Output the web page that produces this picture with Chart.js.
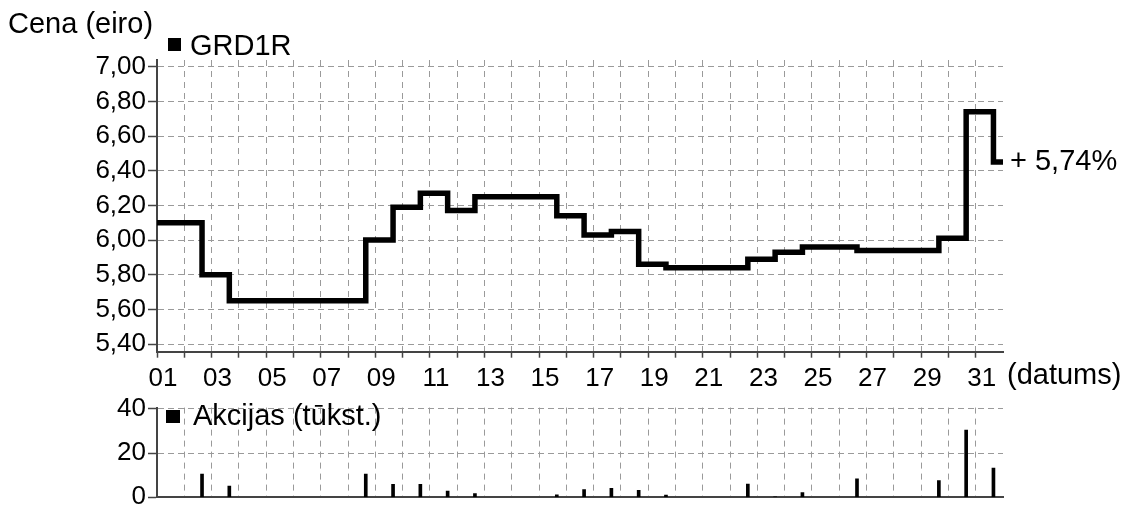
<!DOCTYPE html>
<html>
<head>
<meta charset="utf-8">
<script src="https://cdn.jsdelivr.net/npm/chart.js@4.4.0/dist/chart.umd.min.js"></script>
<style>
  html, body { margin: 0; padding: 0; background: #fff; }
  #wrap { position: relative; width: 1125px; height: 507px; overflow: hidden; }
  canvas { position: absolute; left: 0; }
  #priceChart { top: 0; }
  #volumeChart { top: 390px; }
</style>
</head>
<body>
<div id="wrap">
  <canvas id="priceChart" width="1125" height="395"></canvas>
  <canvas id="volumeChart" width="1125" height="140"></canvas>
</div>
<script>
// month days on the x axis
const days = [1, 2, 3, 4, 5, 6, 7, 8, 9, 10, 11, 12, 13, 14, 15, 16, 17, 18, 19, 20, 21, 22, 23, 24, 25, 26, 27, 28, 29, 30, 31];
// days with a trade, price after it, volume (thousand shares)
const tradeDays = [2, 3, 8, 9, 10, 11, 12, 15, 16, 17, 18, 19, 22, 23, 24, 26, 29, 30, 31];
const openPrice = 6.10;
const closePrices = [5.80, 5.65, 6.00, 6.19, 6.27, 6.17, 6.25, 6.14, 6.03, 6.05, 5.86, 5.84, 5.89, 5.93, 5.96, 5.94, 6.01, 6.74, 6.45];
const volumes = [10.5, 5.1, 10.5, 5.8, 5.8, 2.8, 1.7, 1.1, 3.5, 4.0, 3.2, 1.0, 6.0, 0.2, 2.1, 8.3, 7.5, 30.3, 13.2];
const priceTicks = [5.4, 5.6, 5.8, 6.0, 6.2, 6.4, 6.6, 6.8, 7.0];
const volumeTicks = [0, 20, 40];

const yTitle = 'Cena (eiro)';
const xTitle = '(datums)';
const seriesName = 'GRD1R';
const volumeName = 'Akcijas (tūkst.)';
const changeLabel = '+ 5,74%';

const FONT = '"Liberation Sans", Arial, sans-serif';
const tradeTime = 0.65; // trades land late in the day
const gridColor = '#9a9a9a';
const axisColor = '#444';

const xMin = days[0], xMax = days[days.length - 1] + 1;

const priceData = [{ x: xMin, y: openPrice }]
  .concat(tradeDays.map((d, i) => ({ x: d + tradeTime, y: closePrices[i] })))
  .concat([{ x: xMax, y: closePrices[closePrices.length - 1] }]);
const volumeData = tradeDays.map((d, i) => ({ x: d + tradeTime, y: volumes[i] }));

const pad2 = v => (v < 10 ? '0' : '') + v;

const xScale = (showLabels, height) => ({
  type: 'linear',
  min: xMin,
  max: xMax,
  offset: false,
  afterBuildTicks: s => { s.ticks = days.map(v => ({ value: v })); },
  afterFit: s => { s.height = height; },
  grid: { color: gridColor, lineWidth: 1, offset: false, drawTicks: showLabels, tickLength: 6, tickColor: axisColor, tickWidth: 1.5 },
  border: { color: axisColor, width: 2, dash: [6, 5] },
  ticks: {
    display: showLabels,
    autoSkip: false,
    maxRotation: 0,
    padding: 6,
    labelOffset: 6,
    color: '#000',
    font: { family: FONT, size: 26 },
    callback: v => (v % 2 === 1 ? pad2(v) : '')
  }
});

const yScale = (min, max, tickList, fmt) => ({
  min, max,
  afterBuildTicks: s => { s.ticks = tickList.map(v => ({ value: v })); },
  afterFit: s => { s.width = 157; },
  grid: { color: gridColor, lineWidth: 1, tickLength: 9, tickColor: axisColor, tickWidth: 1.5 },
  border: { color: axisColor, width: 2, dash: [6, 4] },
  ticks: { padding: 2, color: '#000', font: { family: FONT, size: 26 }, callback: fmt }
});

const priceNotes = {
  id: 'priceNotes',
  afterDraw(chart) {
    const { ctx, chartArea, scales } = chart;
    ctx.save();
    ctx.fillStyle = '#000';
    ctx.font = '29px ' + FONT;
    ctx.textBaseline = 'alphabetic';
    ctx.fillText(yTitle, 8, 33);
    ctx.fillRect(168, 38, 13, 13);
    ctx.fillText(seriesName, 190, 55);
    ctx.textBaseline = 'middle';
    const lastY = scales.y.getPixelForValue(closePrices[closePrices.length - 1]);
    ctx.fillText(changeLabel, chartArea.right + 7, lastY);
    ctx.fillText(xTitle, chartArea.right + 4, 376);
    ctx.restore();
  }
};

const volumeNotes = {
  id: 'volumeNotes',
  afterDraw(chart) {
    const { ctx } = chart;
    ctx.save();
    ctx.fillStyle = '#000';
    ctx.font = '29px ' + FONT;
    ctx.fillRect(166, 20, 14, 13);
    ctx.fillText(volumeName, 193, 35);
    ctx.restore();
  }
};

new Chart(document.getElementById('priceChart'), {
  type: 'line',
  data: {
    datasets: [{
      data: priceData,
      stepped: 'before',
      borderColor: '#000',
      borderWidth: 5.5,
      borderJoinStyle: 'miter',
      pointRadius: 0,
      fill: false
    }]
  },
  options: {
    responsive: false,
    animation: false,
    events: [],
    layout: { padding: { top: 60, right: 122, left: 0, bottom: 0 } },
    plugins: { legend: { display: false }, tooltip: { enabled: false } },
    scales: {
      x: xScale(true, 395 - 351.7),
      y: yScale(5.356, 7.039, priceTicks, v => v.toFixed(2).replace('.', ','))
    }
  },
  plugins: [priceNotes]
});

new Chart(document.getElementById('volumeChart'), {
  type: 'bar',
  data: {
    datasets: [{
      data: volumeData,
      backgroundColor: '#000',
      barThickness: 3
    }]
  },
  options: {
    responsive: false,
    animation: false,
    events: [],
    layout: { padding: { top: 10.5, right: 122, left: 0, bottom: 0 } },
    plugins: { legend: { display: false }, tooltip: { enabled: false } },
    scales: {
      x: xScale(false, 140 - 107.3),
      y: yScale(0, 40.5, volumeTicks, v => String(v))
    }
  },
  plugins: [volumeNotes]
});
</script>
</body>
</html>
